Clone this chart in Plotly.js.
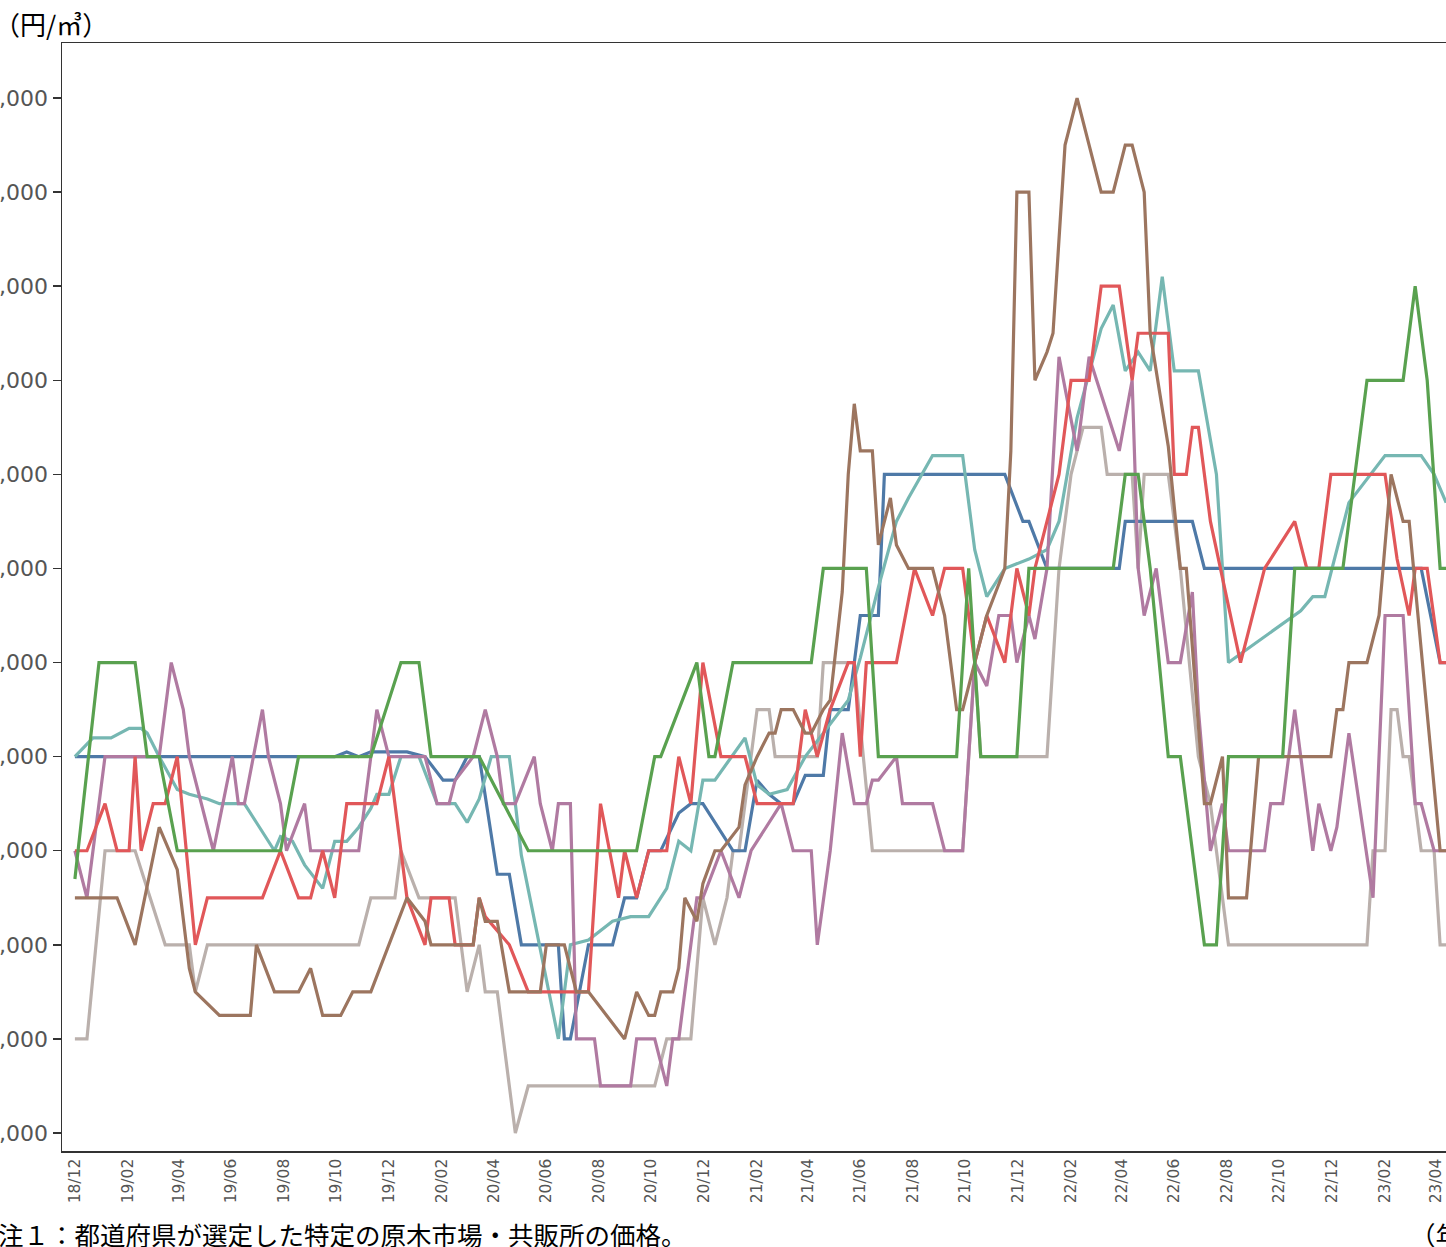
<!DOCTYPE html>
<html><head><meta charset="utf-8">
<script src="https://cdn.plot.ly/plotly-3.0.1.min.js"></script>
<style>
html,body{margin:0;padding:0;background:#fff;overflow:hidden;width:1446px;height:1247px}
#chart{width:1560px;height:1247px}
</style>
</head><body><div id="chart"></div>
<script>
// x = sample index counted from 2018-12-01 (roughly weekly); y = 円/㎥
const blueW = [0,43,45,47,49,55,58,61,63,65,67,70,72,74,80,81,82,85,89,91,93,95,97,100,102,104,109,111,113,115,117,119,121,124,125,128,130,133,134,154,157,158,161,173,174,185,187,223,226,227];
const blueV = [13000,13000,13050,13000,13050,13050,13000,12750,12750,13000,13000,11750,11750,11000,11000,10000,10000,11000,11000,11500,11500,12000,12000,12400,12500,12500,12000,12000,12750,12600,12500,12500,12800,12800,13500,13500,14500,14500,16000,16000,15500,15500,15000,15000,15500,15500,15000,15000,14000,14000];

const tealW = [0,3,6,9,11,12,14,17,19,22,24,28,30,33,34,36,38,41,43,45,47,49,50,52,54,57,60,63,65,67,69,72,73,74,80,82,85,89,92,95,98,100,102,104,106,111,113,115,118,121,124,128,130,133,136,138,142,147,149,151,154,158,161,163,166,170,172,174,176,178,180,182,186,189,191,203,205,207,211,217,223,225,227];
const tealV = [13000,13200,13200,13300,13300,13250,13000,12650,12600,12550,12500,12500,12300,12000,12150,12100,11850,11600,12100,12100,12250,12450,12600,12600,13000,13000,12500,12500,12300,12550,13000,13000,12500,11950,10000,11000,11050,11250,11300,11300,11600,12100,12000,12750,12750,13200,12700,12600,12650,13000,13250,13600,14050,14800,15500,15750,16200,16200,15200,14700,15000,15100,15200,15500,16600,17550,17800,17100,17300,17100,18100,17100,17100,16000,14000,14550,14700,14700,15700,16200,16200,16000,15700];

const greenW = [0,4,10,12,14,17,34,37,49,54,57,59,67,75,93,96,97,103,105,106,109,122,124,131,133,146,148,150,156,158,172,174,176,178,181,183,187,189,191,200,202,210,214,220,222,224,226,227];
const greenV = [11700,14000,14000,13000,13000,12000,12000,13000,13000,14000,14000,13000,13000,12000,12000,13000,13000,14000,13000,13000,14000,14000,15000,15000,13000,13000,15000,13000,13000,15000,15000,16000,16000,15000,13000,13000,11000,11000,13000,13000,15000,15000,17000,17000,18000,17000,15000,15000];

const redW = [0,2,5,7,9,10,11,13,15,17,20,22,31,34,37,39,41,43,45,50,52,55,58,59,62,63,66,67,68,72,75,85,87,90,91,93,95,98,100,102,104,107,111,113,119,121,123,125,128,129,130,131,136,139,142,144,147,149,151,154,156,158,159,163,165,168,170,173,175,176,181,182,184,185,186,188,193,195,197,202,204,206,208,217,219,221,222,224,226,227];
const redV = [12000,12000,12500,12000,12000,13000,12000,12500,12500,13000,11000,11500,11500,12000,11500,11500,12000,11500,12500,12500,13000,11500,11000,11500,11500,11000,11000,11500,11300,11000,10500,10500,12500,11500,12000,11500,12000,12000,13000,12500,14000,13000,13000,12500,12500,13500,13000,13500,14000,14000,13000,14000,14000,15000,14500,15000,15000,14000,14500,14000,15000,14500,15000,16000,17000,17000,18000,18000,17000,17500,17500,16000,16000,16500,16500,15500,14000,14500,15000,15500,15000,15000,16000,16000,15100,14500,15000,15000,14000,14000];

const purpleW = [0,2,5,14,16,18,19,23,26,27,28,31,32,34,35,38,39,47,50,52,58,60,62,63,66,68,70,71,73,76,77,79,80,82,83,86,87,92,93,96,98,99,100,103,104,107,110,112,117,119,122,123,125,127,129,131,132,133,136,137,142,144,147,149,151,153,155,156,158,159,161,163,166,168,173,175,176,177,179,181,183,185,186,188,190,191,197,198,200,202,205,206,208,209,211,215,217,220,222,223,225,227];
const purpleV = [12000,11500,13000,13000,14000,13500,13000,12000,13000,12500,12500,13500,13000,12500,12000,12500,12000,12000,13500,13000,13000,12500,12500,12750,13000,13500,13000,12500,12500,13000,12500,12000,12500,12500,10000,10000,9500,9500,10000,10000,9500,10000,10000,11500,11500,12000,11500,12000,12500,12000,12000,11000,12000,13250,12500,12500,12750,12750,13000,12500,12500,12000,12000,14000,13750,14500,14500,14000,14500,14250,15000,17250,16250,17250,16250,17000,15000,14500,15000,14000,14000,14750,13500,12000,12500,12000,12000,12500,12500,13500,12000,12500,12000,12250,13250,11500,14500,14500,12500,12500,12000,12000];

const brownW = [0,7,10,14,17,19,20,24,29,30,33,37,39,41,44,46,49,52,55,58,59,66,67,68,70,72,77,78,81,83,85,91,93,95,96,97,99,100,101,103,104,106,107,110,111,113,115,116,117,119,121,122,124,125,127,128,129,130,132,133,135,136,138,142,144,146,147,149,151,154,155,156,158,159,161,162,164,166,168,170,172,174,175,177,178,181,183,184,187,188,190,191,194,196,208,209,210,211,214,216,218,220,221,226,227];
const brownV = [11500,11500,11000,12250,11800,10750,10500,10250,10250,11000,10500,10500,10750,10250,10250,10500,10500,11000,11500,11250,11000,11000,11500,11250,11250,10500,10500,11000,11000,10500,10500,10000,10500,10250,10250,10500,10500,10750,11500,11250,11650,12000,12000,12250,12700,13000,13250,13250,13500,13500,13250,13250,13500,13600,14750,16000,16750,16250,16250,15250,15750,15250,15000,15000,14500,13500,13500,14000,14500,15000,16250,19000,19000,17000,17300,17500,19500,20000,19500,19000,19000,19500,19500,19000,17500,16300,15000,15000,12500,12500,13000,11500,11500,13000,13000,13500,13500,14000,14000,14500,16000,15500,15500,12000,12000];

const grayW = [0,2,5,10,15,19,20,22,47,49,53,54,57,63,65,67,68,70,73,75,96,98,102,104,106,108,109,110,113,115,116,123,124,129,132,135,147,149,150,161,163,165,167,170,171,175,176,177,181,183,186,188,191,214,215,217,218,219,220,221,223,225,226,227];
const grayV = [10000,10000,12000,12000,11000,11000,10500,11000,11000,11500,11500,12000,11500,11500,10500,11000,10500,10500,9000,9500,9500,10000,10000,11500,11000,11500,12000,12000,13500,13500,13000,13000,14000,14000,12000,12000,12000,14000,13000,13000,15000,16000,16500,16500,16000,16000,15000,16000,16000,15000,13000,12500,11000,11000,12000,12000,13500,13500,13000,13000,12000,12000,11000,11000];

const yTickVals = [9000,10000,11000,12000,13000,14000,15000,16000,17000,18000,19000,20000];
const unitText = '（円/㎥）';
const noteText = '注１：都道府県が選定した特定の原木市場・共販所の価格。';
const xUnitText = '（年/月）';

const DAYS_PER_STEP = 7.02;
function toDates(ws){
  const base = Date.UTC(2018,11,1);
  return ws.map(w => new Date(base + Math.round(w*DAYS_PER_STEP)*86400000).toISOString().slice(0,10));
}

const series = [
  {name:'系列7', w:grayW,   v:grayV,   color:'#bab0ac'},
  {name:'系列1', w:blueW,   v:blueV,   color:'#4e79a7'},
  {name:'系列2', w:tealW,   v:tealV,   color:'#76b7b2'},
  {name:'系列5', w:purpleW, v:purpleV, color:'#b07aa1'},
  {name:'系列4', w:redW,    v:redV,    color:'#e15759'},
  {name:'系列6', w:brownW,  v:brownV,  color:'#9c755f'},
  {name:'系列3', w:greenW,  v:greenV,  color:'#59a14f'}
];

const traces = series.map(s => ({
  type:'scatter', mode:'lines', name:s.name,
  x:toDates(s.w), y:s.v,
  line:{color:s.color, width:3.2},
  hoverinfo:'skip'
}));

const L = 62, T = 43, W = 1428, H = 1108;
function px2paperX(px){ return (px - L)/W; }
function px2paperY(py){ return (T + H - py)/H; }

const layout = {
  width:1560, height:1247,
  margin:{l:L, r:1560-L-W, t:T, b:1247-T-H, pad:0},
  paper_bgcolor:'#fff', plot_bgcolor:'#fff',
  showlegend:false,
  xaxis:{
    type:'date', range:['2018-11-16','2023-06-03'],
    tickmode:'linear', tick0:'2018-12-01', dtick:'M2', tickformat:'%y/%m',
    tickangle:-90, ticks:'', showgrid:false, zeroline:false,
    showline:true, mirror:true, linecolor:'#333', linewidth:1.5,
    tickfont:{family:'DejaVu Sans, Verdana, sans-serif', size:15.5, color:'#555'},
    automargin:false
  },
  yaxis:{
    range:[8808.7, 20584.9], tickmode:'array', tickvals:yTickVals, tickformat:',d',
    ticks:'outside', ticklen:8, tickwidth:1.5, tickcolor:'#333',
    showgrid:false, zeroline:false,
    showline:true, mirror:true, linecolor:'#333', linewidth:1.5,
    tickfont:{family:'DejaVu Sans, Verdana, sans-serif', size:22, color:'#555'},
    automargin:false
  },
  annotations:[
    {text:unitText, xref:'paper', yref:'paper', x:px2paperX(-8), y:px2paperY(24), xanchor:'left', yanchor:'middle',
     showarrow:false, font:{family:'Noto Sans CJK JP, sans-serif', size:26, color:'#000'}},
    {text:noteText, xref:'paper', yref:'paper', x:px2paperX(-4), y:px2paperY(1233), xanchor:'left', yanchor:'middle',
     showarrow:false, font:{family:'Noto Sans CJK JP, sans-serif', size:25.5, color:'#000'}},
    {text:xUnitText, xref:'paper', yref:'paper', x:px2paperX(1408), y:px2paperY(1233), xanchor:'left', yanchor:'middle',
     showarrow:false, font:{family:'Noto Sans CJK JP, sans-serif', size:25.5, color:'#000'}}
  ]
};

Plotly.newPlot('chart', traces, layout, {displayModeBar:false, staticPlot:true});
</script>
</body></html>
